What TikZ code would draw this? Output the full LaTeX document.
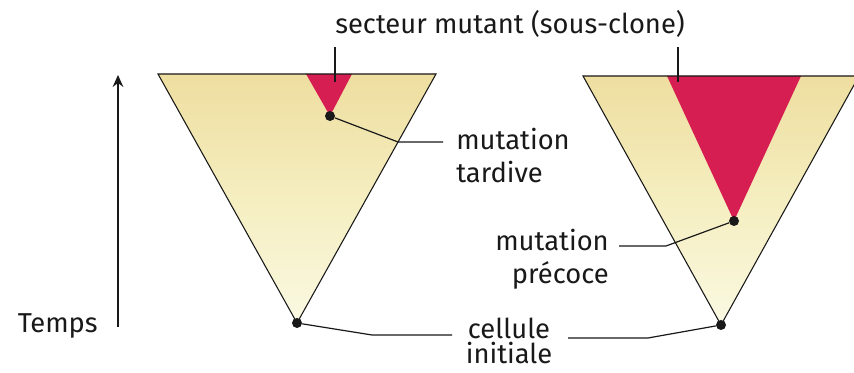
\documentclass[tikz,border=0pt]{standalone}
\usepackage{fontspec}
\setmainfont{Fira Sans}
\usetikzlibrary{arrows.meta}
\definecolor{topfill}{RGB}{238,222,160}
\definecolor{midfill}{RGB}{245,238,192}
\definecolor{botfill}{RGB}{250,249,226}
\definecolor{mutred}{RGB}{214,30,82}
\definecolor{ink}{RGB}{25,25,25}
\tikzset{
  edge/.style={draw=ink, line width=0.8pt, line join=miter},
  lead/.style={draw=ink, line width=0.9pt},
  dotc/.style={circle, fill=ink, inner sep=0pt, minimum size=7.5pt},
  lbl/.style={font=\fontsize{20.5}{24}\selectfont, text=ink, inner sep=0pt},
  cone/.style={top color=topfill, bottom color=botfill, middle color=midfill},
}
\begin{document}
\begin{tikzpicture}[x=0.75pt, y=-0.75pt]
\useasboundingbox[fill=white] (0,0) rectangle (854,373);
% left triangle
\shade[cone] (158,74) -- (436,74) -- (297,323) -- cycle;
\fill[mutred] (306,74) -- (352,74) -- (330,116) -- cycle;
\draw[edge] (158,74) -- (436,74) -- (297,323) -- cycle;
% right triangle
\shade[cone] (583,76) -- (859,76) -- (721,325) -- cycle;
\fill[mutred] (667,76) -- (801,76) -- (734,221) -- cycle;
\draw[edge] (583,76) -- (859,76) -- (721,325) -- cycle;
% dots
\node[dotc] (late) at (330,116) {};
\node[dotc] (early) at (734,221) {};
\node[dotc] (init1) at (297,323) {};
\node[dotc] (init2) at (721,325) {};
% labels
\node[lbl, anchor=base] (sect) at (510,34) {secteur mutant (sous-clone)};
\node[lbl, anchor=base west] (tard1) at (456,150) {mutation};
\node[lbl, anchor=base west] (tard2) at (456,183) {tardive};
\node[lbl, anchor=base east] (prec1) at (609,251) {mutation};
\node[lbl, anchor=base east] (prec2) at (609,284) {précoce};
\node[lbl, anchor=base] (cell1) at (509,339) {cellule};
\node[lbl, anchor=base] (cell2) at (509,364) {initiale};
\node[lbl, anchor=base east] (temps) at (98,333) {Temps};
% leader coordinates
\coordinate (sl) at (335,47);
\coordinate (sle) at (335,82);
\coordinate (sr) at (678,47);
\coordinate (sre) at (678,82);
\coordinate (tk) at (398,142);
\coordinate (te) at (443,142);
\coordinate (pk) at (666,246);
\coordinate (pe) at (619,246);
\coordinate (c1k) at (372,335);
\coordinate (c1e) at (452,335);
\coordinate (c2k) at (648,338);
\coordinate (c2e) at (568,338);
\coordinate (tb) at (118,327);
\coordinate (tt) at (118,75);
% leaders
\draw[lead] (sl) -- (sle);
\draw[lead] (sr) -- (sre);
\draw[lead] (late) -- (tk) -- (te);
\draw[lead] (early) -- (pk) -- (pe);
\draw[lead] (init1) -- (c1k) -- (c1e);
\draw[lead] (init2) -- (c2k) -- (c2e);
\draw[draw=ink, line width=1.2pt, -{Stealth[length=9pt, width=8pt, inset=3pt]}] (tb) -- (tt);
\end{tikzpicture}
\end{document}
